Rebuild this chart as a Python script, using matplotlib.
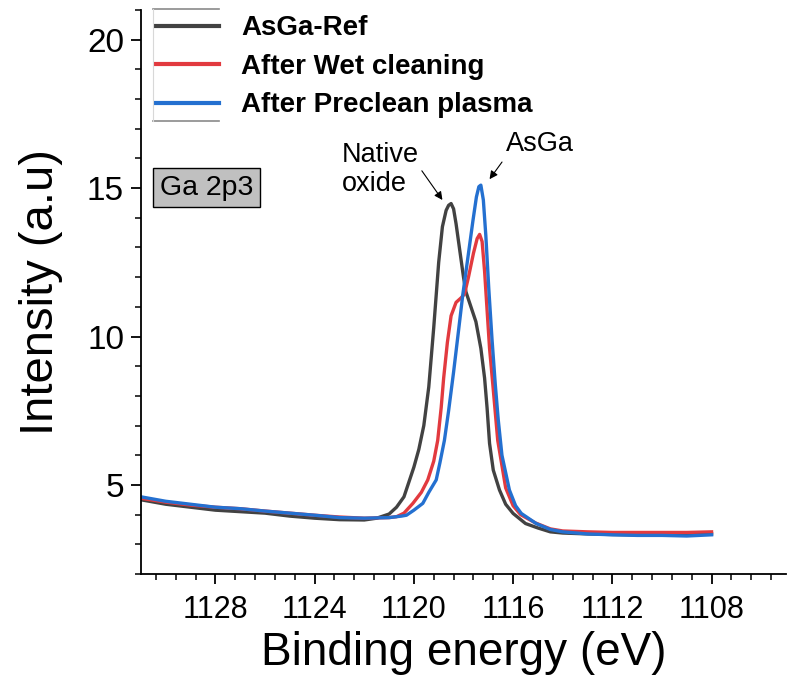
import matplotlib
matplotlib.use("Agg")
import matplotlib.pyplot as plt
from matplotlib.lines import Line2D
from matplotlib.ticker import AutoMinorLocator

# ---- data ----
x_ref = [1131.0, 1130.0, 1129.0, 1128.0, 1127.0, 1126.0, 1125.0, 1124.0, 1123.0, 1122.0,
         1121.5, 1121.0, 1120.7, 1120.4, 1120.2, 1120.0, 1119.8, 1119.6, 1119.4, 1119.2,
         1119.0, 1118.85, 1118.7, 1118.6, 1118.5, 1118.4, 1118.3, 1118.15, 1118.0, 1117.9,
         1117.7, 1117.5, 1117.3, 1117.15, 1117.05, 1116.95, 1116.8, 1116.55, 1116.3, 1116.0,
         1115.5, 1115.0, 1114.5, 1114.0, 1113.0, 1112.0, 1111.0, 1110.0, 1109.0, 1108.0]
y_ref = [4.50, 4.35, 4.25, 4.15, 4.10, 4.05, 3.95, 3.88, 3.83, 3.82,
         3.88, 4.02, 4.25, 4.60, 5.10, 5.60, 6.20, 7.00, 8.30, 10.3,
         12.5, 13.7, 14.25, 14.42, 14.48, 14.3, 13.8, 12.9, 12.0, 11.5,
         11.0, 10.5, 9.6, 8.6, 7.6, 6.4, 5.5, 4.83, 4.35, 4.04,
         3.70, 3.55, 3.42, 3.38, 3.35, 3.33, 3.32, 3.32, 3.33, 3.35]

x_wet = [1131.0, 1130.0, 1129.0, 1128.0, 1127.0, 1126.0, 1125.0, 1124.0, 1123.0, 1122.0,
         1121.0, 1120.7, 1120.4, 1120.04, 1119.7, 1119.44, 1119.2, 1119.04, 1118.9, 1118.8,
         1118.65, 1118.5, 1118.3, 1118.1, 1117.96, 1117.8, 1117.6, 1117.45, 1117.35, 1117.25,
         1117.15, 1117.05, 1116.95, 1116.82, 1116.62, 1116.3, 1116.0, 1115.7, 1115.1, 1114.5,
         1114.0, 1113.0, 1112.0, 1111.0, 1110.0, 1109.0, 1108.0]
y_wet = [4.55, 4.42, 4.32, 4.25, 4.20, 4.12, 4.05, 3.98, 3.92, 3.88,
         3.90, 3.93, 4.05, 4.38, 4.75, 5.17, 5.80, 6.50, 7.60, 8.60,
         9.80, 10.7, 11.15, 11.3, 11.43, 12.0, 12.8, 13.3, 13.44, 13.2,
         12.2, 10.9, 9.6, 8.4, 6.5, 4.9, 4.3, 4.0, 3.72, 3.52,
         3.45, 3.42, 3.40, 3.40, 3.40, 3.40, 3.42]

x_pre = [1131.0, 1130.0, 1129.0, 1128.0, 1127.0, 1126.0, 1125.0, 1124.0, 1123.0, 1122.0,
         1121.0, 1120.5, 1120.3, 1120.0, 1119.64, 1119.4, 1119.1, 1118.95, 1118.77, 1118.6,
         1118.4, 1118.2, 1118.03, 1117.8, 1117.62, 1117.48, 1117.38, 1117.3, 1117.2, 1117.1,
         1116.98, 1116.85, 1116.72, 1116.6, 1116.45, 1116.15, 1115.9, 1115.67, 1115.07, 1114.5,
         1114.0, 1113.0, 1112.0, 1111.0, 1110.0, 1109.0, 1108.0]
y_pre = [4.60, 4.45, 4.35, 4.25, 4.20, 4.12, 4.05, 3.98, 3.90, 3.88,
         3.90, 3.95, 3.98, 4.15, 4.38, 4.75, 5.17, 5.75, 6.50, 7.50,
         8.80, 10.2, 11.4, 12.8, 13.9, 14.7, 15.05, 15.1, 14.6, 13.4,
         11.6, 9.9, 8.4, 7.2, 6.0, 4.83, 4.3, 4.04, 3.70, 3.50,
         3.42, 3.35, 3.32, 3.30, 3.30, 3.28, 3.32]

labels = ["AsGa-Ref", "After Wet cleaning", "After Preclean plasma"]
colors = ["#424242", "#e23a3f", "#2470d0"]

x_ticks = [1128, 1124, 1120, 1116, 1112, 1108]
y_ticks = [5, 10, 15, 20]

# ---- figure ----
fig = plt.figure(figsize=(7.9, 6.81), dpi=100)
ax = fig.add_axes([141/790, 1 - 574/681, (786 - 141)/790, (574 - 10)/681])

for xs, ys, c, lab in zip([x_ref, x_wet, x_pre], [y_ref, y_wet, y_pre], colors, labels):
    ax.plot(xs, ys, color=c, lw=2.4, label=lab, solid_joinstyle="round")

ax.set_xlim(1131, 1105)
ax.set_ylim(2, 21)
ax.set_xticks(x_ticks)
ax.set_yticks(y_ticks)
ax.xaxis.set_minor_locator(AutoMinorLocator(5))
ax.yaxis.set_minor_locator(AutoMinorLocator(5))
for s in ["top", "right"]:
    ax.spines[s].set_visible(False)
for s in ["left", "bottom"]:
    ax.spines[s].set_linewidth(1.3)
ax.tick_params(which="major", direction="out", length=7.2, width=1.3)
ax.tick_params(which="minor", direction="out", length=4, width=1.1)
ax.tick_params(axis="y", labelsize=24, pad=5)
ax.tick_params(axis="x", labelsize=22, pad=8)
for t in ax.get_xticklabels():
    t.set_family("Liberation Sans")
for t in ax.get_yticklabels():
    t.set_family("Liberation Sans")

ax.set_xlabel("Binding energy (eV)", fontsize=33, family="Liberation Sans", labelpad=4)
ax.set_ylabel("Intensity (a.u)", fontsize=34, family="Liberation Sans", labelpad=17)

leg = ax.legend(loc="upper left", bbox_to_anchor=(137/790, 1 + 4/681), bbox_transform=fig.transFigure,
                frameon=False, prop={"family": "Liberation Sans", "weight": "bold", "size": 20},
                handlelength=2.25, handletextpad=0.8, labelspacing=0.45, borderpad=0.2)
for h in leg.legend_handles:
    h.set_linewidth(3)

# legend frame remnants
for yy in [9, 121]:
    fig.add_artist(Line2D([153/790, 219/790], [1 - yy/681, 1 - yy/681], transform=fig.transFigure,
                          color="#8a8a8a", lw=1.2))
fig.add_artist(Line2D([153/790, 153/790], [1 - 9/681, 1 - 121/681], transform=fig.transFigure,
                      color="#d8d8d8", lw=0.8))

ax.text(0.029, 0.685, "Ga 2p3", transform=ax.transAxes, fontsize=20.5, family="Liberation Sans",
        va="center", ha="left",
        bbox=dict(boxstyle="square,pad=0.24", fc="#c0c0c0", ec="black", lw=1))

ax.annotate("Native\noxide", xy=(1118.85, 14.6), xytext=(1122.9, 16.55), fontsize=19.5,
            family="Liberation Sans", ha="left", va="top", linespacing=1.15,
            arrowprops=dict(arrowstyle="-|>", color="black", lw=0.8, mutation_scale=12,
                            shrinkA=0, shrinkB=0, relpos=(1.0, 0.55)))
ax.annotate("AsGa", xy=(1116.95, 15.3), xytext=(1116.3, 16.25), fontsize=19.5,
            family="Liberation Sans", ha="left", va="baseline",
            arrowprops=dict(arrowstyle="-|>", color="black", lw=0.8, mutation_scale=12,
                            shrinkA=2, shrinkB=0, relpos=(0.0, 0.0)))

fig.savefig("out.png", dpi=100)
